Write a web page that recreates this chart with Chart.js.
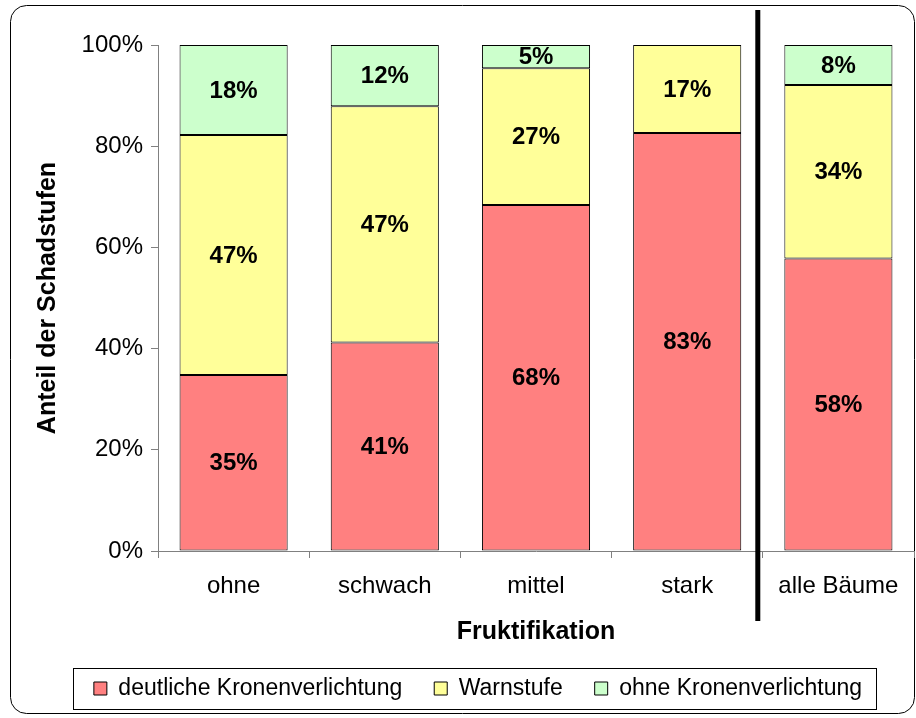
<!DOCTYPE html>
<html>
<head>
<meta charset="utf-8">
<script src="https://cdn.jsdelivr.net/npm/chart.js@4/dist/chart.umd.min.js"></script>
<style>
  body { margin: 0; background: #fff; }
  canvas { display: block; }
</style>
</head>
<body>
<canvas id="myChart" width="916" height="718"></canvas>
<script>
// categories and values (percent of trees per damage class)
let categories = ['ohne', 'schwach', 'mittel', 'stark', 'alle Bäume'];
let deutlich = [34.8, 41.2, 68.4, 82.6, 57.8];
let warnstufe = [47.4, 46.7, 27.0, 17.4, 34.3];
let ohneVerl = [17.8, 12.1, 4.6, 0, 7.9];
let yTicks = [0, 20, 40, 60, 80, 100];

const FONT = '"Liberation Sans", Arial, sans-serif';

// outer frame + white background
const framePlugin = {
  id: 'frame',
  beforeDraw(chart) {
    const c = chart.ctx;
    c.save();
    c.fillStyle = '#fff';
    c.fillRect(0, 0, chart.width, chart.height);
    c.beginPath();
    c.roundRect(10.5, 5.5, chart.width - 12, chart.height - 10, 16);
    c.strokeStyle = '#000';
    c.lineWidth = 1;
    c.stroke();
    c.restore();
  },
  afterDraw(chart) {
    const c = chart.ctx;
    // box round the legend
    const boxes = chart.legend.legendHitBoxes;
    if (boxes && boxes.length) {
      let l = Math.min(...boxes.map(b => b.left)) - 21;
      let r = Math.max(...boxes.map(b => b.left + b.width)) + 14;
      let t = boxes[0].top - 9;
      let h = boxes[0].height + 18;
      c.save();
      c.strokeStyle = '#000';
      c.lineWidth = 1;
      c.strokeRect(Math.round(l) + 0.5, Math.round(t) + 0.5, Math.round(r - l), Math.round(h));
      c.restore();
    }
    // thick separator before "alle Bäume"
    const x = chart.scales.x.getPixelForValue(3.5) - 5;
    const area = chart.chartArea;
    c.save();
    c.strokeStyle = '#000';
    c.lineWidth = 5;
    c.beginPath();
    c.moveTo(x, area.top - 35);
    c.lineTo(x, area.bottom + 70);
    c.stroke();
    c.restore();
  }
};

// percent labels inside the segments
const labelPlugin = {
  id: 'segLabels',
  afterDatasetsDraw(chart) {
    const c = chart.ctx;
    c.save();
    c.font = 'bold 24px ' + FONT;
    c.fillStyle = '#000';
    c.textAlign = 'center';
    c.textBaseline = 'middle';
    chart.data.datasets.forEach((ds, i) => {
      chart.getDatasetMeta(i).data.forEach((bar, j) => {
        let v = ds.data[j];
        if (!v) return;
        c.fillText(Math.round(v) + '%', bar.x, (bar.y + bar.base) / 2 + 1);
      });
    });
    c.restore();
  }
};

let ctx = document.getElementById('myChart').getContext('2d');
let myChart = new Chart(ctx, {
  type: 'bar',
  data: {
    labels: categories,
    datasets: [
      {
        label: 'deutliche Kronenverlichtung',
        data: deutlich,
        backgroundColor: '#FF8080',
        borderColor: '#000',
        borderWidth: 1,
        borderSkipped: false
      },
      {
        label: 'Warnstufe',
        data: warnstufe,
        backgroundColor: '#FFFF99',
        borderColor: '#000',
        borderWidth: 1,
        borderSkipped: false
      },
      {
        label: 'ohne Kronenverlichtung',
        data: ohneVerl,
        backgroundColor: '#CCFFCC',
        borderColor: '#000',
        borderWidth: 1,
        borderSkipped: false
      }
    ]
  },
  options: {
    responsive: false,
    animation: false,
    layout: { padding: { left: 42, right: 2, top: 45, bottom: 8 } },
    datasets: { bar: { categoryPercentage: 0.715, barPercentage: 1 } },
    scales: {
      x: {
        stacked: true,
        grid: { drawOnChartArea: false, tickLength: 7, color: '#808080' },
        border: { color: '#808080' },
        ticks: { color: '#000', font: { family: FONT, size: 24 }, padding: 14 },
        title: {
          display: true,
          text: 'Fruktifikation',
          color: '#000',
          font: { family: FONT, size: 25, weight: 'bold', lineHeight: 1 },
          padding: { top: 0, bottom: 0 }
        },
        afterFit(s) { s.height = 94; }
      },
      y: {
        stacked: true,
        min: 0,
        max: 100,
        afterBuildTicks(s) { s.ticks = yTicks.map(v => ({ value: v })); },
        grid: { drawOnChartArea: false, tickLength: 7, color: '#808080' },
        border: { color: '#808080' },
        ticks: {
          color: '#000',
          font: { family: FONT, size: 24 },
          padding: 8,
          callback: v => v + '%'
        },
        title: {
          display: true,
          text: 'Anteil der Schadstufen',
          color: '#000',
          font: { family: FONT, size: 25, weight: 'bold', lineHeight: 1 },
          padding: { top: -6, bottom: 0 }
        },
        afterFit(s) { s.width = 116; }
      }
    },
    plugins: {
      legend: {
        position: 'bottom',
        labels: {
          color: '#000',
          font: { family: FONT, size: 23 },
          boxWidth: 13,
          boxHeight: 13,
          padding: 32,
          generateLabels(chart) {
            return chart.data.datasets.map((ds, i) => ({
              text: ds.label,
              fillStyle: ds.backgroundColor,
              strokeStyle: '#000',
              lineWidth: 1,
              fontColor: '#000',
              datasetIndex: i
            }));
          }
        }
      },
      tooltip: { enabled: false }
    }
  },
  plugins: [framePlugin, labelPlugin]
});
</script>
</body>
</html>
